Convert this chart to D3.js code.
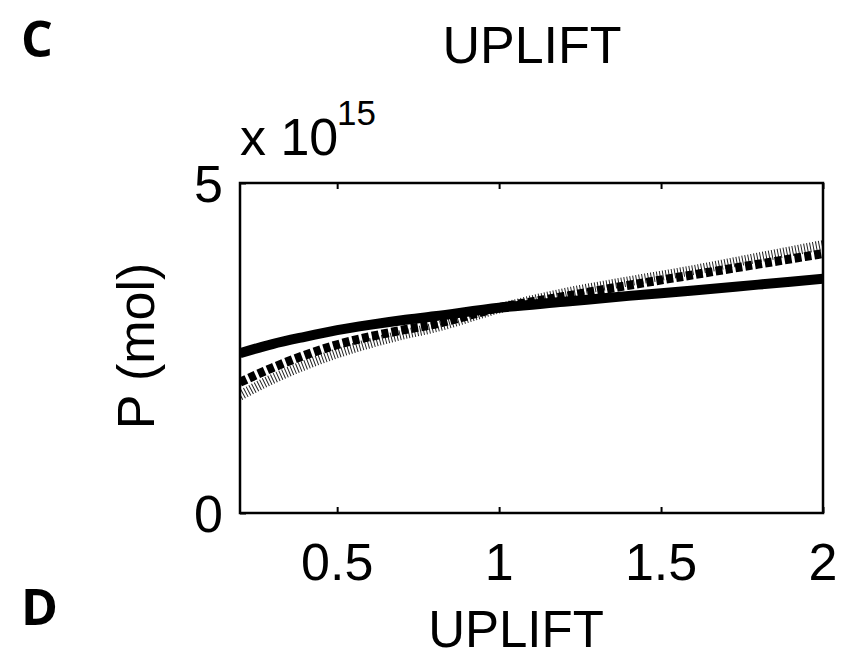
<!DOCTYPE html>
<html><head><meta charset="utf-8">
<script src="https://cdn.jsdelivr.net/npm/d3@7"></script>
<style>body{margin:0;background:#fff}svg{display:block}text{font-family:"Liberation Sans",Arial,sans-serif;fill:#000}</style>
</head><body><svg id="c" width="845" height="659"></svg>
<script>
const uplift = [0.2,0.3,0.4,0.5,0.6,0.7,0.8,1.0,1.2,1.4,1.6,1.8,2.0];
const solidP  = [2.42,2.56,2.67,2.77,2.85,2.92,2.98,3.11,3.20,3.29,3.37,3.46,3.55];
const dashedP = [1.98,2.20,2.39,2.55,2.67,2.77,2.86,3.11,3.28,3.45,3.61,3.77,3.93];
const dottedP = [1.78,2.03,2.24,2.42,2.57,2.70,2.81,3.10,3.33,3.51,3.68,3.87,4.06];
const xTicks = [0.5,1,1.5,2];
const xTickLabels = ["0.5","1","1.5","2"];
const yTicks = [0,5];
const yTickLabels = ["0","5"];

const svg = d3.select("#c");
const L=240,R=823,T=183,B=513;
const x = d3.scaleLinear().domain([0.2,2]).range([L,R]);
const y = d3.scaleLinear().domain([0,5]).range([B,T]);

svg.append("defs").append("clipPath").attr("id","clip")
  .append("rect").attr("x",L).attr("y",T).attr("width",R-L).attr("height",B-T);

const line = d3.line().x(d=>x(d[0])).y(d=>y(d[1])).curve(d3.curveMonotoneX);
const g = svg.append("g").attr("clip-path","url(#clip)");
const series = [
  {v:dottedP, w:10, dash:"1,2", c:"#222"},
  {v:dashedP, w:9, dash:"7,3", c:"#000"},
  {v:solidP, w:10, dash:null, c:"#000"}
];
series.forEach(s=>{
  g.append("path").datum(uplift.map((u,i)=>[u,s.v[i]]))
   .attr("d",line).attr("fill","none").attr("stroke",s.c)
   .attr("stroke-width",s.w).attr("stroke-dasharray",s.dash);
});

// axes
const xb = svg.append("g").attr("transform",`translate(0,${B})`)
  .call(d3.axisBottom(x).tickValues(xTicks).tickSize(-6).tickFormat(""));
const xt = svg.append("g").attr("transform",`translate(0,${T})`)
  .call(d3.axisTop(x).tickValues(xTicks).tickSize(-6).tickFormat(""));
const yl = svg.append("g").attr("transform",`translate(${L},0)`)
  .call(d3.axisLeft(y).tickValues(yTicks).tickSize(-6).tickFormat(""));
[xb,xt,yl].forEach(a=>{a.select(".domain").remove();a.selectAll("line").attr("stroke","#000").attr("stroke-width",2);});

svg.append("rect").attr("x",L).attr("y",T).attr("width",R-L).attr("height",B-T)
  .attr("fill","none").attr("stroke","#000").attr("stroke-width",2.5);

// tick labels
svg.selectAll(".xl").data(xTicks).enter().append("text")
  .attr("x",d=>x(d)).attr("y",580).attr("text-anchor","middle")
  .attr("font-size",52).text((d,i)=>xTickLabels[i]);
svg.selectAll(".yl").data(yTicks).enter().append("text")
  .attr("x",223).attr("y",d=>y(d)+19).attr("text-anchor","end")
  .attr("font-size",52).text((d,i)=>yTickLabels[i]);

// exponent
svg.append("text").attr("x",240).attr("y",155).attr("font-size",52).text("x 10");
svg.append("text").attr("x",337).attr("y",125).attr("font-size",35).text("15");

// titles
svg.append("text").attr("x",532).attr("y",63).attr("text-anchor","middle").attr("font-size",52).text("UPLIFT");
svg.append("text").attr("x",516).attr("y",647).attr("text-anchor","middle").attr("font-size",51).text("UPLIFT");
svg.append("text").attr("transform","translate(154,346) rotate(-90)").attr("text-anchor","middle").attr("font-size",52).text("P (mol)");

svg.append("text").attr("x",21).attr("y",57).attr("font-size",50).attr("font-weight","bold").style("font-family","'Open Sans',sans-serif").text("C");
svg.append("text").attr("x",21).attr("y",625).attr("font-size",50).attr("font-weight","bold").style("font-family","'Open Sans',sans-serif").text("D");
</script></body></html>
